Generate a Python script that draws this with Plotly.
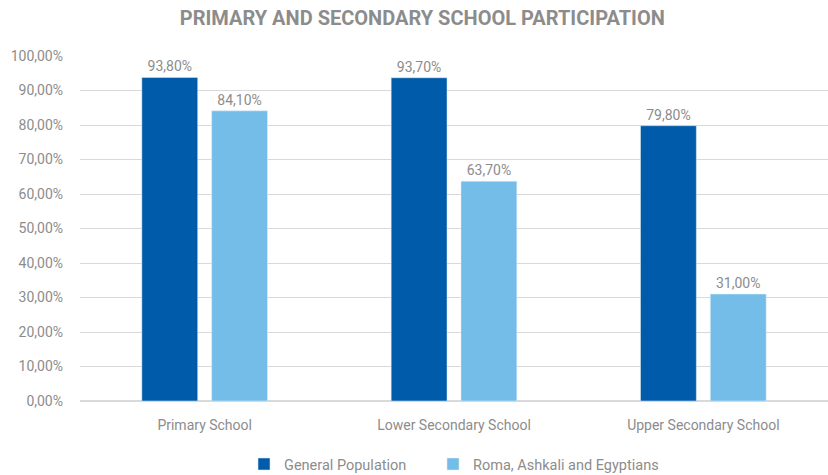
import plotly.graph_objects as go

categories = ["Primary School", "Lower Secondary School", "Upper Secondary School"]
general = [93.8, 93.7, 79.8]
rae = [84.1, 63.7, 31.0]
series_names = ["General Population", "Roma, Ashkali and Egyptians"]

FONT = "Liberation Sans Narrow, Roboto, sans-serif"
GREY = "#8c8c8c"

fig = go.Figure()
fig.add_bar(x=categories, y=general, name=series_names[0], marker_color="#005BAA",
            texttemplate="%{y:.2f}%", textposition="outside", legend="legend",
            showlegend=True,
            textfont=dict(color=GREY, size=14, family=FONT), cliponaxis=False)
fig.add_bar(x=categories, y=rae, name=series_names[1], marker_color="#74BDE8",
            texttemplate="%{y:.2f}%", textposition="outside", legend="legend2",
            showlegend=True,
            textfont=dict(color=GREY, size=14, family=FONT), cliponaxis=False)

leg_common = dict(orientation="h", xref="container", yref="container",
                  y=0.023, yanchor="middle", xanchor="left",
                  font=dict(size=14.5, color=GREY), bgcolor="rgba(0,0,0,0)")

fig.update_layout(
    width=828, height=475,
    showlegend=True,
    margin=dict(l=80, r=0, t=56, b=74, autoexpand=False),
    paper_bgcolor="white", plot_bgcolor="white",
    separators=",.",
    barmode="group", bargap=0.44, bargroupgap=0.2,
    font=dict(family=FONT, color=GREY, size=14),
    title=dict(text="<b>PRIMARY AND SECONDARY SCHOOL PARTICIPATION</b>",
               x=0.51, xanchor="center", y=0.962, yanchor="middle",
               font=dict(size=20, color="#8c8c8c", family=FONT)),
    legend=dict(x=244 / 828, **leg_common),
    legend2=dict(x=433 / 828, **leg_common),
)
fig.update_yaxes(range=[0, 100], dtick=10, tickformat=".2f", ticksuffix="%",
                 showgrid=True, gridcolor="#d9d9d9", gridwidth=1, zeroline=True,
                 zerolinecolor="#d9d9d9", ticks="", tickfont=dict(size=14, color=GREY),
                 ticklabelstandoff=16, automargin=False)
fig.update_xaxes(showline=False, tickfont=dict(size=14, color=GREY), ticks="",
                 ticklabelstandoff=14, automargin=False)

fig.write_html("out.html")
